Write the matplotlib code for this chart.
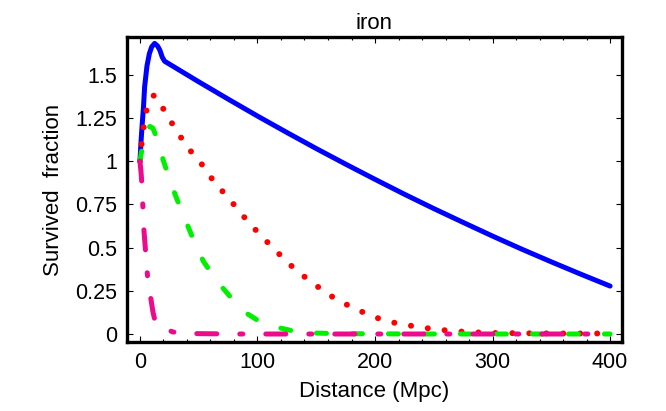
import numpy as np
import matplotlib.pyplot as plt
from matplotlib.ticker import MultipleLocator

plt.rcParams['font.family'] = ['Liberation Sans', 'DejaVu Sans']

# curves
blue_x = [0, 1, 2, 3, 4, 6, 8, 10, 12.5, 15, 17, 19, 21, 30, 50, 75, 100, 125, 150,
          175, 200, 225, 250, 275, 300, 325, 350, 375, 400]
blue_y = [1.0, 1.12, 1.22, 1.31, 1.43, 1.55, 1.62, 1.66, 1.68, 1.665, 1.64, 1.60, 1.577,
          1.540, 1.458, 1.358, 1.260, 1.165, 1.072, 0.982, 0.894, 0.808, 0.725, 0.645,
          0.566, 0.490, 0.417, 0.346, 0.277]

red_x = [0, 2, 3.5, 6, 9, 12, 16, 20, 28, 35.5, 44, 54, 62, 71.5, 81, 90, 100, 110,
         121, 131, 142, 154, 167, 180, 193, 207, 221, 236, 250, 265, 280, 300, 330, 360, 400]
red_y = [1.0, 1.14, 1.21, 1.31, 1.36, 1.38, 1.35, 1.30, 1.21, 1.13, 1.05, 0.97, 0.89,
         0.815, 0.74, 0.665, 0.59, 0.52, 0.445, 0.38, 0.32, 0.26, 0.20, 0.156, 0.116,
         0.08, 0.058, 0.042, 0.028, 0.018, 0.011, 0.006, 0.004, 0.003, 0.003]

green_x = [0, 2, 4, 6, 8.5, 11, 14, 17, 20, 25, 30, 35, 41, 47, 54, 62, 70, 80, 89,
           100, 116, 130, 145, 170, 200, 250, 400]
green_y = [1.0, 1.08, 1.14, 1.18, 1.2, 1.19, 1.14, 1.07, 1.0, 0.9, 0.805, 0.72, 0.62,
           0.52, 0.42, 0.34, 0.27, 0.19, 0.127, 0.08, 0.04, 0.018, 0.006, 0.002, 0.001,
           0.0, 0.0]

pink_x = [0, 1, 1.7, 2.5, 3.4, 5, 6.5, 8, 9.4, 11, 13, 15.6, 19.6, 23, 28, 35, 50, 80, 400]
pink_y = [1.0, 0.93, 0.86, 0.735, 0.60, 0.46, 0.33, 0.25, 0.20, 0.13, 0.07, 0.045,
          0.04, 0.025, 0.012, 0.005, 0.002, 0.0, 0.0]

x_ticks = [0, 100, 200, 300, 400]
y_ticks = [0, 0.25, 0.5, 0.75, 1, 1.25, 1.5]
y_tick_labels = ['0', '0.25', '0.5', '0.75', '1', '1.25', '1.5']

fig = plt.figure(figsize=(6.66, 4.11), dpi=100)
ax = fig.add_axes([0.1907, 0.168, 0.743, 0.742])

ax.plot(blue_x, blue_y, color='#0000ff', linewidth=3.6, solid_capstyle='round')
ax.plot(red_x, red_y, color='#ff0000', linewidth=4.3, linestyle=(0, (0.01, 2.83)),
        dash_capstyle='round')
ax.plot(green_x, green_y, color='#00f000', linewidth=3.6, linestyle=(0, (2.0, 5.2)),
        dash_capstyle='round')
ax.plot(pink_x, pink_y, color='#ee0a8c', linewidth=3.6,
        linestyle=(0, (4.0, 4.6, 0.6, 4.6)), dash_capstyle='round')

ax.set_xlim(-11, 410)
ax.set_ylim(-0.046, 1.717)
ax.set_xticks(x_ticks)
ax.set_yticks(y_ticks)
ax.set_yticklabels(y_tick_labels)
ax.xaxis.set_minor_locator(MultipleLocator(20))
ax.tick_params(which='both', direction='in', top=True, right=True, labelsize=15.5, width=0.8)
ax.tick_params(which='major', length=4, pad=7)
ax.tick_params(which='minor', length=2)
for s in ax.spines.values():
    s.set_linewidth(2.4)

ax.set_title('iron', fontsize=16, pad=6)
ax.set_xlabel('Distance (Mpc)', fontsize=16, labelpad=6)
ax.set_ylabel('Survived  fraction', fontsize=16, labelpad=8)

plt.savefig('out.png')
